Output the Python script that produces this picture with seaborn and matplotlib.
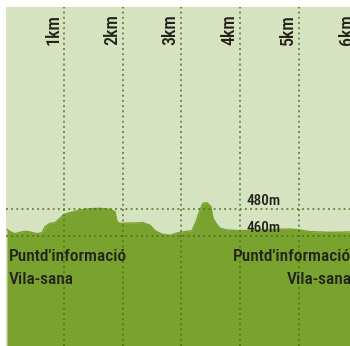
import matplotlib
matplotlib.use("Agg")
import matplotlib.pyplot as plt
import seaborn as sns
import pandas as pd

# Elevation profile of the route (distance in km, altitude in m)
distance_km = [0.030, 0.081, 0.166, 0.251, 0.336, 0.421, 0.540, 0.626, 0.677, 0.762,
               0.847, 0.932, 1.000, 1.102, 1.272, 1.443, 1.613, 1.783, 1.868, 1.902,
               1.953, 2.123, 2.345, 2.464, 2.549, 2.668, 2.804, 2.940, 3.060, 3.179,
               3.247, 3.315, 3.366, 3.434, 3.502, 3.536, 3.587, 3.655, 3.774, 3.996,
               4.336, 4.592, 4.847, 5.017, 5.187, 5.528, 5.868]
altitude_m = [465.1, 463.4, 461.9, 462.9, 463.7, 463.2, 461.9, 462.6, 467.0, 469.5,
              470.0, 473.2, 476.1, 477.3, 479.3, 480.2, 480.5, 479.8, 478.0, 470.7,
              469.5, 469.7, 470.0, 468.1, 464.1, 461.5, 460.7, 462.6, 463.4, 464.1,
              470.7, 479.3, 484.2, 484.6, 481.7, 473.2, 469.5, 465.9, 464.6, 464.1,
              464.6, 465.1, 465.3, 464.6, 463.4, 462.9, 463.2]

km_ticks = [1, 2, 3, 4, 5, 6]
km_labels = ["1km", "2km", "3km", "4km", "5km", "6km"]
alt_ticks = [460, 480]
alt_labels = ["460m", "480m"]
poi_label = "Puntd'informació\nVila-sana"

BG = "#d6e3c0"
GREEN = "#7aa22f"
GRID = "#4d6e1e"
TEXT = "#22221a"

sns.set_theme(style="white")
NARROW = ["Roboto Condensed", "Liberation Sans Narrow", "DejaVu Sans"]
plt.rcParams["font.family"] = NARROW

fig = plt.figure(figsize=(3.5, 3.46), dpi=100)
fig.patch.set_facecolor("white")
ax = fig.add_axes([6 / 350, 0, 344 / 350, 339 / 346])
ax.set_facecolor(BG)

df = pd.DataFrame({"km": distance_km, "alt": altitude_m})
ymin = 379.6
sns.lineplot(data=df, x="km", y="alt", ax=ax, color=GREEN, linewidth=1.0, zorder=2)
ax.fill_between(df["km"], df["alt"], ymin, color=GREEN, linewidth=0, zorder=2)

ax.set_xlim(0.013, 0.013 + 344 / 58.75)
ax.set_ylim(ymin, 628.0)

for k in km_ticks:
    ax.axvline(k, color=GRID, linestyle=(0, (1.2, 2.2)), linewidth=1.1, zorder=3)
for a in alt_ticks:
    ax.axhline(a, color=GRID, linestyle=(0, (1.2, 2.2)), linewidth=1.1, zorder=3)

txt = dict(color=TEXT, fontstretch="condensed", fontweight="medium", family=NARROW)
for k, lab in zip(km_ticks, km_labels):
    ax.text(k - 0.03, 600.5, lab, rotation=90, ha="right", va="bottom",
            fontsize=13, zorder=4, **txt)
for a, lab in zip(alt_ticks, alt_labels):
    ax.text(4.1, a + 1.0, lab, ha="left", va="bottom", fontsize=11, zorder=4, **txt)

ax.text(0.06, 451.0, poi_label, ha="left", va="top", fontsize=12.5,
        linespacing=1.68, zorder=4, **txt)
ax.text(5.89, 451.0, poi_label, ha="right", va="top", fontsize=12.5,
        linespacing=1.68, multialignment="right", zorder=4, **txt)

ax.set_xticks([])
ax.set_yticks([])
ax.set_xlabel("")
ax.set_ylabel("")
for s in ax.spines.values():
    s.set_visible(False)

fig.savefig("out.png", dpi=100, facecolor="white")
